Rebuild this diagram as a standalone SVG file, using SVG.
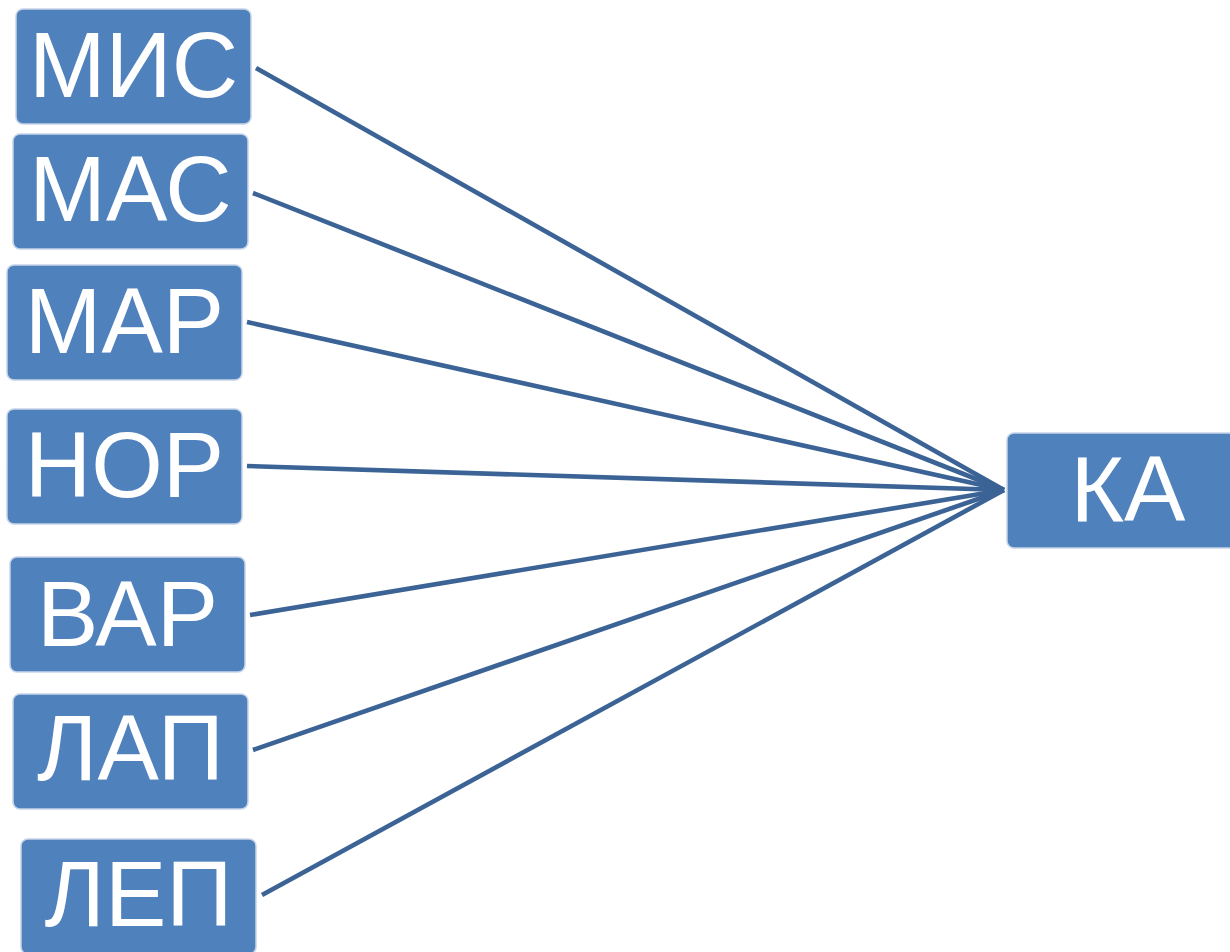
<svg xmlns="http://www.w3.org/2000/svg" width="1230" height="952" viewBox="0 0 1230 952">
<style>
.box{fill:#4f81bd;stroke:#c6d4e8;stroke-width:1.5}
.lbl{fill:#fff;font-family:"Liberation Sans",Arial,sans-serif;font-size:92px;text-anchor:middle}
.con{stroke:#3b6395;stroke-width:4.6;fill:none}
</style>
<rect width="1230" height="952" fill="#fff"/>
<g id="connectors">
<line class="con" x1="256" y1="68" x2="1004" y2="490"/>
<line class="con" x1="253" y1="193" x2="1004" y2="490"/>
<line class="con" x1="247" y1="322" x2="1004" y2="490"/>
<line class="con" x1="247" y1="466" x2="1004" y2="490"/>
<line class="con" x1="250" y1="615" x2="1004" y2="490"/>
<line class="con" x1="253" y1="750" x2="1004" y2="490"/>
<line class="con" x1="262" y1="895" x2="1004" y2="490"/>
</g>
<g id="node-mis"><rect class="box" x="16" y="9" width="235" height="115" rx="7"/><text class="lbl" x="133.5" y="97">МИС</text></g>
<g id="node-mas"><rect class="box" x="13" y="134" width="235" height="115" rx="7"/><text class="lbl" x="130.5" y="221">МАС</text></g>
<g id="node-mar"><rect class="box" x="7" y="265" width="235" height="115" rx="7"/><text class="lbl" x="124.5" y="353">МАР</text></g>
<g id="node-nor"><rect class="box" x="7" y="409" width="235" height="115" rx="7"/><text class="lbl" x="124.5" y="497">НОР</text></g>
<g id="node-var"><rect class="box" x="10" y="557" width="235" height="115" rx="7"/><text class="lbl" x="127.5" y="646">ВАР</text></g>
<g id="node-lap"><rect class="box" x="13" y="694" width="235" height="115" rx="7"/><text class="lbl" x="130.5" y="780">ЛАП</text></g>
<g id="node-lep"><rect class="box" x="21" y="839" width="235" height="115" rx="7"/><text class="lbl" x="138.5" y="926">ЛЕП</text></g>
<g id="node-ka"><rect class="box" x="1007" y="433" width="235" height="115" rx="7"/><text class="lbl" x="1128" y="521">КА</text></g>
</svg>
